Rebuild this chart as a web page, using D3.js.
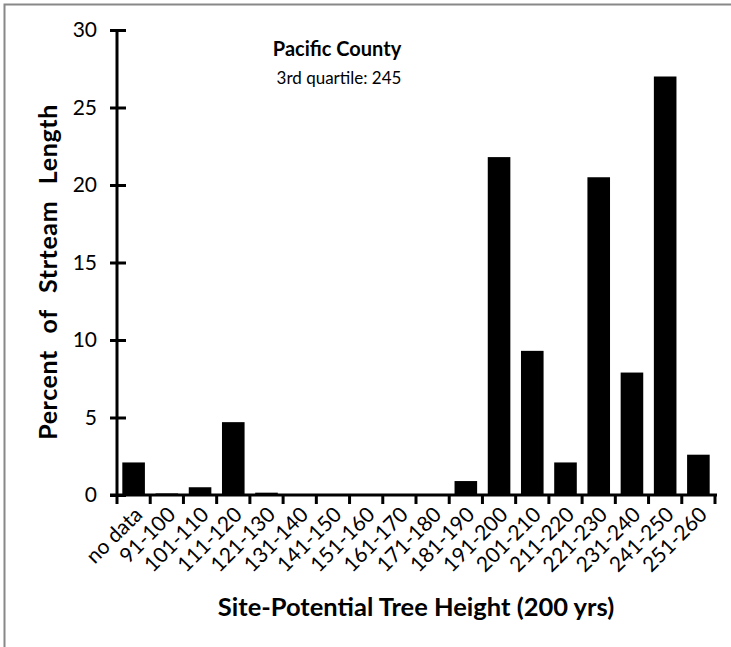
<!DOCTYPE html>
<html><head><meta charset="utf-8">
<script src="https://cdn.jsdelivr.net/npm/d3@7"></script>
<style>body{margin:0;background:#fff;} svg{display:block;}</style>
</head><body>
<script>
const categories = ["no data","91-100","101-110","111-120","121-130","131-140","141-150","151-160","161-170","171-180","181-190","191-200","201-210","211-220","221-230","231-240","241-250","251-260"];
const values = [2.1,0.1,0.5,4.7,0.15,0,0,0,0,0,0.9,21.8,9.3,2.1,20.5,7.9,27,2.6];
const yTicks = [0,5,10,15,20,25,30];
const title = "Pacific County";
const subtitle = "3rd quartile: 245";
const xTitle = "Site-Potential Tree Height (200 yrs)";
const yTitle = "Percent of Strteam Length";

const W = 731, H = 647;
const font = "Lato, 'Open Sans', sans-serif";
const svg = d3.select("body").append("svg").attr("width", W).attr("height", H);
svg.append("rect").attr("width", W).attr("height", H).attr("fill", "#fff");
svg.append("path").attr("d", `M4.5,${H+5}V4.5H${W+5}`).attr("fill","none").attr("stroke","#888").attr("stroke-width",2);

const x = d3.scaleBand().domain(categories).range([117, 715]).paddingInner(0.32).paddingOuter(0.16);
const y = d3.scaleLinear().domain([0, 30]).range([495, 30]);

svg.append("g").selectAll("rect").data(categories).join("rect")
  .attr("x", d => x(d)).attr("width", x.bandwidth())
  .attr("y", (d,i) => y(values[i])).attr("height", (d,i) => y(0) - y(values[i]))
  .attr("fill", "#000");

// y axis
const ya = svg.append("g").attr("transform", "translate(117,0)")
  .call(d3.axisLeft(y).tickValues(yTicks).tickSize(7).tickPadding(13));
ya.select(".domain").attr("stroke-width", 3).attr("d", `M0,${y(30)}V${y(0)}`);
ya.selectAll(".tick line").attr("stroke-width", 3).attr("x1", 9).attr("x2", -7);
ya.selectAll(".tick text").attr("font-family", font).attr("font-size", 21).attr("fill", "#000");

// x axis
const xa = svg.append("g").attr("transform", `translate(0,${y(0)})`)
  .call(d3.axisBottom(x).tickSize(0).tickFormat(""));
xa.select(".domain").attr("stroke-width", 3).attr("d", "M110,0H717");
const bounds = d3.range(categories.length + 1).map(i => 117 + i * x.step());
xa.selectAll(".bound").data(bounds).join("line").attr("class","bound")
  .attr("x1", d => d).attr("x2", d => d).attr("y1", 0).attr("y2", 9)
  .attr("stroke", "#000").attr("stroke-width", 3);
svg.append("g").selectAll("text").data(categories).join("text")
  .attr("transform", d => `translate(${x(d) + x.bandwidth()/2 + 10},${y(0) + 21}) rotate(-45)`)
  .attr("text-anchor", "end").attr("font-family", font).attr("font-size", 21)
  .attr("fill", "#000").text(d => d);

// titles
svg.append("text").attr("x", 337).attr("y", 56).attr("text-anchor","middle")
  .attr("font-family", font).attr("font-weight","bold").attr("font-size", 20).text(title);
svg.append("text").attr("x", 339).attr("y", 84).attr("text-anchor","middle")
  .attr("font-family", font).attr("font-size", 17).text(subtitle);
svg.append("text").attr("x", 416).attr("y", 616).attr("text-anchor","middle")
  .attr("font-family", font).attr("font-weight","bold").attr("font-size", 25.5).text(xTitle);
svg.append("text").attr("transform", "translate(57,272) rotate(-90)").attr("text-anchor","middle")
  .attr("font-family", font).attr("font-weight","bold").attr("font-size", 25)
  .attr("letter-spacing", 0.6).attr("word-spacing", 10).text(yTitle);
</script>
</body></html>
